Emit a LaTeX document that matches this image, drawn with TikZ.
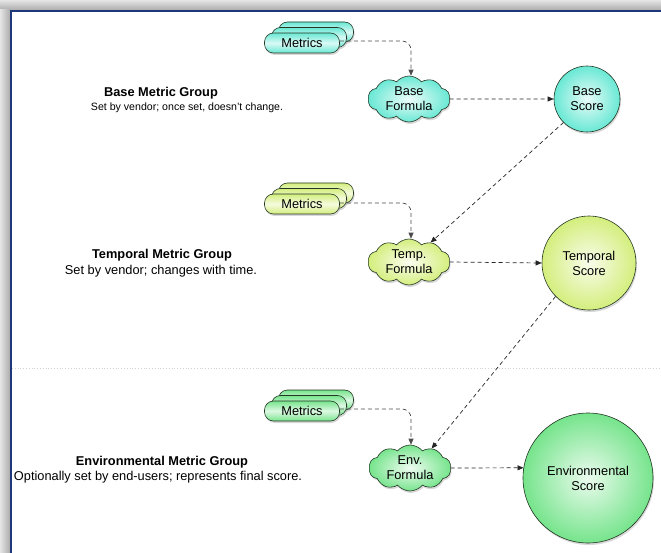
\documentclass[tikz,border=0pt]{standalone}
\usepackage{fontspec}
\setmainfont{Liberation Sans}
\usetikzlibrary{shapes.symbols,shadows,arrows.meta,calc}
\definecolor{cyanf}{RGB}{105,232,212}
\definecolor{yelf}{RGB}{212,238,125}
\definecolor{grnf}{RGB}{118,228,140}
\definecolor{framebl}{RGB}{30,55,120}
\definecolor{edgec}{RGB}{35,55,35}
\begin{document}
\begin{tikzpicture}[x=1pt,y=-1pt,
  txt/.style={font=\fontsize{12.8}{15}\selectfont, inner sep=0pt, align=center},
  ttl/.style={font=\fontsize{12.8}{15}\selectfont\bfseries, inner sep=0pt},
  shad/.style={drop shadow={opacity=0.3, shadow xshift=1pt, shadow yshift=-2pt}},
  pill/.style={rectangle, rounded corners=9pt, minimum width=75pt, minimum height=20pt,
    draw=edgec, line width=0.6pt, top color=#1, bottom color=#1, middle color=#1!25!white,
    font=\fontsize{12.8}{15}\selectfont, inner sep=0pt, shad},
  cloudn/.style={cloud, cloud puffs=10, cloud puff arc=100, aspect=2.0,
    minimum width=82pt, minimum height=46pt, inner sep=0pt, draw=edgec, line width=0.6pt,
    shading=radial, inner color=#1!12!white, outer color=#1, shad},
  score/.style={circle, minimum size=#1, inner sep=0pt, draw=edgec, line width=0.6pt, shad},
  conn/.style={draw=black!85, dash pattern=on 4pt off 3pt, line width=0.7pt,
    -{Triangle[length=6pt,width=5pt]}},
  mconn/.style={conn, draw=black!70, rounded corners=9pt}
]
\useasboundingbox (0,0) rectangle (661,553);
% frame
\fill[white] (0,0) rectangle (661,553);
\shade[top color=gray!20, bottom color=gray!65] (0,0) rectangle (661,10);
\shade[left color=gray!20, right color=gray!65] (0,10) rectangle (10,553);
\draw[framebl, line width=2pt] (11,553) -- (11,11) -- (661,11);
% separator
\draw[gray!35, dotted, line width=0.8pt] (12,368) -- (661,368);

% ---- Base group
\node[ttl] (bt) at (161,93) {Base Metric Group};
\node[txt, font=\fontsize{10.6}{15}\selectfont] (bsub) at (187,108) {Set by vendor; once set, doesn't change.};
\node[pill=cyanf] (m1b) at (316,32) {};
\node[pill=cyanf] (m1m) at (309,37.5) {};
\node[pill=cyanf] (m1) at (302,43) {Metrics};
\node[cloudn=cyanf] (bf) at (409,99) {};
\node[txt] (bft) at (bf) {Base\\Formula};
\node[score=66pt, inner color=cyanf!15!white, outer color=cyanf, shading=radial] (bs) at (587,99) {};
\node[txt] (bst) at (bs) {Base\\Score};

% ---- Temporal group
\node[ttl] (tt) at (162,255) {Temporal Metric Group};
\node[txt] (tsub) at (161,271) {Set by vendor; changes with time.};
\node[pill=yelf] (m2b) at (316,193) {};
\node[pill=yelf] (m2m) at (309,198.5) {};
\node[pill=yelf] (m2) at (302,204) {Metrics};
\node[cloudn=yelf] (tf) at (409,262) {};
\node[txt] (tft) at (tf) {Temp.\\Formula};
\node[score=94pt, inner color=yelf!15!white, outer color=yelf, shading=radial] (ts) at (589,263) {};
\node[txt] (tst) at (ts) {Temporal\\Score};

% ---- Environmental group
\node[ttl] (et) at (162,462) {Environmental Metric Group};
\node[txt] (esub) at (158,477) {Optionally set by end-users; represents final score.};
\node[pill=grnf] (m3b) at (316,400) {};
\node[pill=grnf] (m3m) at (309,405.5) {};
\node[pill=grnf] (m3) at (302,411) {Metrics};
\node[cloudn=grnf] (ef) at (410,468) {};
\node[txt] (eft) at (ef) {Env.\\Formula};
\node[score=130pt, inner color=grnf!15!white, outer color=grnf, shading=radial] (es) at (588,478) {};
\node[txt] (est) at (es) {Environmental\\Score};

% ---- connectors
\coordinate (m1o) at ([yshift=2pt]m1.east);
\coordinate (m2o) at ([yshift=1pt]m2.east);
\coordinate (m3o) at ([yshift=2pt]m3.east);
\draw[mconn] (m1o) -| ([xshift=2pt]bf.north);
\draw[conn] (bf.east) -- (bs.west);
\draw[conn] (bs.south west) -- (tf.42);
\draw[mconn] (m2o) -| ([xshift=2pt]tf.north);
\draw[conn] (tf.east) -- (ts.west);
\draw[conn] (ts.south west) -- (ef.42);
\draw[mconn] (m3o) -| ([xshift=1pt]ef.north);
\draw[conn] (ef.east) -- (es.171);
\end{tikzpicture}
\end{document}
